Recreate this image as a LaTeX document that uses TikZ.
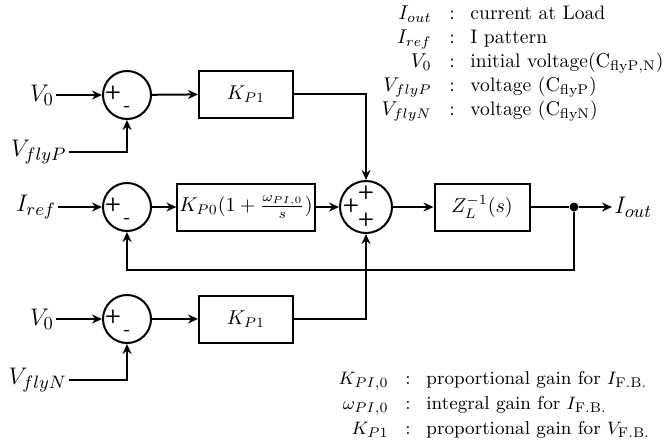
\documentclass[tikz,border=0pt]{standalone}
\usetikzlibrary{arrows.meta}
\begin{document}
\begin{tikzpicture}[x=0.5pt, y=-0.5pt,
  sumc/.style={circle, draw, line width=1pt, minimum size=24pt, inner sep=0pt},
  blk/.style={draw, line width=1pt, minimum height=23.5pt, inner sep=1pt, font=\fontsize{10}{12}\selectfont},
  wire/.style={line width=1pt},
  sig/.style={wire, -{Stealth[length=5pt,width=4.5pt]}},
  inlbl/.style={font=\fontsize{13}{15}\selectfont, inner sep=1pt},
  sgn/.style={font=\sffamily\bfseries\fontsize{9.5}{10}\selectfont, inner sep=0pt},
  legtop/.style={font=\fontsize{9.8}{11}\selectfont, inner sep=0pt},
  legbot/.style={font=\fontsize{9.3}{11}\selectfont, inner sep=0pt}]
\useasboundingbox (0,0) rectangle (668,445);

% ---- upper voltage loop ----
\node[inlbl] (v0a) at (42,95) {$V_0$};
\node[sumc] (sa) at (127,95) {};
\node[sgn] at (113,93) {+};
\node[sgn] at (127,109) {-};
\node[blk, minimum width=47pt] (kpa) at (246,94) {$K_{P1}$};
\node[inlbl, anchor=east] (vfp) at (69,152) {$V_{flyP}$};
\draw[sig] (v0a) -- (sa);
\draw[sig] (sa) -- (kpa);
\draw[sig] (vfp.east) -| (sa.south);

% ---- current loop ----
\node[inlbl] (iref) at (36,207) {$I_{ref}$};
\node[sumc] (sc) at (127,207) {};
\node[sgn] at (113,205) {+};
\node[sgn] at (127,221) {-};
\node[blk, minimum width=63pt] (pictl) at (246,207) {$K_{P0}(1+\frac{\omega_{PI,0}}{s})$};
\node[sumc, minimum size=26pt] (sb) at (366,207) {};
\node[sgn] at (366,193) {+};
\node[sgn] at (351,206) {+};
\node[sgn] at (366,220) {+};
\node[blk, minimum width=47.5pt] (zl) at (482,207) {$Z_L^{-1}(s)$};
\node[circle, fill, inner sep=0pt, minimum size=4.5pt] (dot) at (574,207) {};
\node[inlbl, anchor=west] (iout) at (612,207) {$I_{out}$};
\coordinate (fb) at (574,270);
\draw[sig] (iref) -- (sc);
\draw[sig] (sc) -- (pictl);
\draw[sig] (pictl) -- (sb);
\draw[sig] (sb) -- (zl);
\draw[wire] (zl) -- (dot);
\draw[sig] (dot) -- (iout);
\draw[sig] (dot) -- (fb) -| (sc.south);
\draw[sig] (kpa.east) -| (sb.north);

% ---- lower voltage loop ----
\node[inlbl] (v0b) at (42,319) {$V_0$};
\node[sumc] (sd) at (127,319) {};
\node[sgn] at (113,317) {+};
\node[sgn] at (127,333) {-};
\node[blk, minimum width=47pt] (kpb) at (246,319) {$K_{P1}$};
\node[inlbl, anchor=east] (vfn) at (69,380) {$V_{flyN}$};
\draw[sig] (v0b) -- (sd);
\draw[sig] (sd) -- (kpb);
\draw[sig] (vfn.east) -| (sd.south);
\draw[sig] (kpb.east) -| (sb.south);

% ---- symbol list (top) ----
\foreach \y/\sym/\txt in {15/{I_{out}}/{current at Load},
                          39/{I_{ref}}/{I pattern},
                          63/{V_0}/{initial voltage($\mathrm{C_{flyP,N}}$)},
                          87/{V_{flyP}}/{voltage ($\mathrm{C_{flyP}}$)},
                          111/{V_{flyN}}/{voltage ($\mathrm{C_{flyN}}$)}}{
  \node[legtop, anchor=mid east] at (432,\y) {$\sym$};
  \node[legtop, anchor=mid] at (452,\y) {:};
  \node[legtop, anchor=mid west] at (470,\y) {\txt};
}

% ---- gain list (bottom) ----
\foreach \y/\sym/\txt in {380/{K_{PI,0}}/{proportional gain for $I_{\mathrm{F.B.}}$},
                          405/{\omega_{PI,0}}/{integral gain for $I_{\mathrm{F.B.}}$},
                          430/{K_{P1}}/{proportional gain for $V_{\mathrm{F.B.}}$}}{
  \node[legbot, anchor=mid east] at (389,\y) {$\sym$};
  \node[legbot, anchor=mid] at (408,\y) {:};
  \node[legbot, anchor=mid west] at (426,\y) {\txt};
}
\end{tikzpicture}
\end{document}
